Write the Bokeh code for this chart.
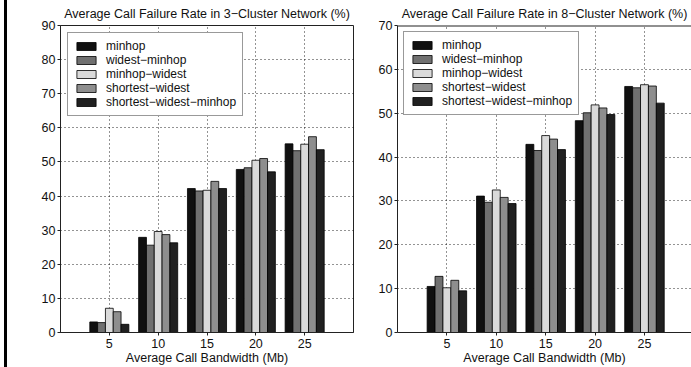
from bokeh.plotting import figure
from bokeh.models import (ColumnDataSource, FixedTicker, Range1d, Spacer, Legend, Span)
from bokeh.layouts import row
from bokeh.transform import dodge
from bokeh.embed import file_html
from bokeh.resources import INLINE

# Average call bandwidth (Mb) on the x axis
bandwidth = [5, 10, 15, 20, 25]
tick_labels = ["5", "10", "15", "20", "25"]

algorithms = ["minhop", "widest\u2212minhop", "minhop\u2212widest",
              "shortest\u2212widest", "shortest\u2212widest\u2212minhop"]

# Call failure rate (%) in the 3-cluster network
c3_minhop = [3.1, 27.9, 42.2, 47.8, 55.3]
c3_widest_minhop = [2.9, 25.6, 41.5, 48.3, 53.3]
c3_minhop_widest = [7.1, 29.6, 41.7, 50.5, 55.2]
c3_shortest_widest = [6.1, 28.7, 44.3, 51.0, 57.4]
c3_shortest_widest_minhop = [2.4, 26.3, 42.2, 47.1, 53.6]

# Call failure rate (%) in the 8-cluster network
c8_minhop = [10.5, 31.1, 42.9, 48.3, 56.1]
c8_widest_minhop = [12.8, 29.7, 41.5, 50.1, 55.8]
c8_minhop_widest = [10.2, 32.5, 44.9, 51.9, 56.5]
c8_shortest_widest = [11.9, 30.8, 44.1, 51.2, 56.2]
c8_shortest_widest_minhop = [9.5, 29.4, 41.7, 49.7, 52.3]

bar_colors = ["#101010", "#707070", "#dadada", "#8e8e8e", "#202020"]

FONT = "Liberation Sans"
TXT = "#111111"


def make_panel(title, series, y_max, x_end, width, border_left, border_right, legend_margin):
    p = figure(width=width, height=367, output_backend="svg", toolbar_location=None,
               x_range=Range1d(0, x_end), y_range=Range1d(0, y_max),
               min_border_left=border_left, min_border_right=border_right,
               min_border_top=25, min_border_bottom=33)
    p.outline_line_color = "#222222"
    p.background_fill_color = "white"
    p.border_fill_color = "white"

    p.title.text = title
    p.title.align = "center"
    p.title.text_font = FONT
    p.title.text_font_size = "12.5px"
    p.title.text_font_style = "normal"
    p.title.text_color = TXT
    p.title.standoff = 9

    # bars, five per bandwidth group
    bw = 0.8
    renderers = []
    for i, (name, vals) in enumerate(zip(algorithms, series)):
        src = ColumnDataSource(dict(x=bandwidth, y=vals))
        r = p.vbar(x=dodge("x", (i - 2) * bw), top="y", width=bw, source=src,
                   fill_color=bar_colors[i], line_color="#000000", line_width=0.8)
        renderers.append((name, [r]))

    p.xaxis.ticker = FixedTicker(ticks=bandwidth)
    p.xaxis.major_label_overrides = {b: t for b, t in zip(bandwidth, tick_labels)}
    p.yaxis.ticker = FixedTicker(ticks=list(range(0, y_max + 1, 10)))
    p.xaxis.axis_label = "Average Call Bandwidth (Mb)"
    for ax in (p.xaxis[0], p.yaxis[0]):
        ax.axis_line_color = "#222222"
        ax.major_tick_line_color = "#222222"
        ax.major_tick_out = 3
        ax.major_tick_in = 0
        ax.minor_tick_line_color = None
        ax.major_label_text_font = FONT
        ax.major_label_text_font_size = "12.5px"
        ax.major_label_text_color = TXT
        ax.axis_label_text_font = FONT
        ax.axis_label_text_font_size = "12.5px"
        ax.axis_label_text_font_style = "normal"
        ax.axis_label_text_color = TXT
    p.xaxis.major_label_standoff = 3
    p.xaxis.axis_label_standoff = 0
    p.yaxis.major_label_standoff = 2

    p.xgrid.grid_line_color = "#000000"
    p.xgrid.grid_line_dash = "1 3"
    p.xgrid.grid_line_alpha = 0.85
    p.ygrid.grid_line_color = "#000000"
    p.ygrid.grid_line_dash = "1 3"
    p.ygrid.grid_line_alpha = 0.85

    legend = Legend(items=renderers, location="top_left")
    legend.margin = legend_margin
    legend.padding = 6
    legend.spacing = -2
    legend.glyph_width = 24
    legend.glyph_height = 10
    legend.label_height = 10
    legend.label_standoff = 8
    legend.label_text_font = FONT
    legend.label_text_font_size = "12px"
    legend.label_text_color = TXT
    legend.border_line_color = "#333333"
    legend.border_line_width = 1
    legend.background_fill_color = "white"
    legend.background_fill_alpha = 1.0
    p.add_layout(legend, "center")
    return p


p1 = make_panel("Average Call Failure Rate in 3\u2212Cluster Network (%)",
                [c3_minhop, c3_widest_minhop, c3_minhop_widest,
                 c3_shortest_widest, c3_shortest_widest_minhop],
                90, 30, 368, 53, 22, 7)

p2 = make_panel("Average Call Failure Rate in 8\u2212Cluster Network (%)",
                [c8_minhop, c8_widest_minhop, c8_minhop_widest,
                 c8_shortest_widest, c8_shortest_widest_minhop],
                70, 29.76, 316, 22, 0, 6)
p2.min_border_bottom = 35
# the second panel runs off the page edge: keep its top rule, drop the box
p2.outline_line_color = None
p2.add_layout(Span(location=p2.y_range.end, dimension="width",
                   line_color="#222222", line_width=2, level="overlay"))

edge = Spacer(width=3, height=367, styles={"background-color": "#000000"})
layout = row(Spacer(width=4, height=367), edge, p1, p2)

open("out.html", "w").write(file_html(layout, INLINE))
